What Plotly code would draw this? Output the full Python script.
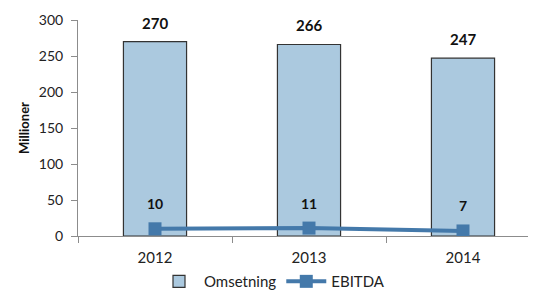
import plotly.graph_objects as go

years = ["2012", "2013", "2014"]
omsetning = [270, 266, 247]
ebitda = [10, 11, 7]

bar_color = "#abc9df"
line_color = "#4479aa"
font_fam = "Lato, Open Sans, sans-serif"

fig = go.Figure()
fig.add_trace(go.Bar(
    x=years, y=omsetning, name="Omsetning",
    marker=dict(color=bar_color, line=dict(color="#333333", width=1.2)),
    width=0.41,
))
fig.add_trace(go.Scatter(
    x=years, y=ebitda, name="EBITDA", mode="lines+markers",
    line=dict(color=line_color, width=4),
    marker=dict(symbol="square", size=13, color=line_color),
))

for i, v in enumerate(omsetning):
    fig.add_annotation(x=i, y=v, xref="x", yref="y", text=f"<b>{v}</b>", showarrow=False,
                       yshift=19, font=dict(size=15, color="#111111", family=font_fam))
for i, v in enumerate(ebitda):
    fig.add_annotation(x=i, y=v, xref="x", yref="y", text=f"<b>{v}</b>", showarrow=False,
                       yshift=25, font=dict(size=14, color="#111111", family=font_fam))

fig.update_layout(
    width=528, height=285,
    margin=dict(l=70, r=0, t=12, b=57, autoexpand=False),
    paper_bgcolor="white", plot_bgcolor="white",
    font=dict(family=font_fam, color="#222222"),
    showlegend=True,
    legend=dict(orientation="h", xref="container", yref="container",
                x=0.5, xanchor="center", y=0.04, yanchor="middle",
                font=dict(size=15, family=font_fam, color="#222222"),
                itemwidth=40, traceorder="normal"),
)
fig.update_xaxes(
    type="category",
    range=[-0.5, 2.474], showline=True, linecolor="#8c8c8c", linewidth=1,
    ticks="outside", tickson="boundaries", ticklen=6, tickcolor="#8c8c8c",
    tickfont=dict(size=15, color="#222222", family=font_fam), showgrid=False,
    ticklabelstandoff=8,
    automargin=False,
)
fig.update_yaxes(
    range=[0, 300], dtick=50, showline=True, linecolor="#8c8c8c", linewidth=1,
    ticks="outside", ticklen=6, tickcolor="#8c8c8c", showgrid=False, zeroline=False,
    tickfont=dict(size=14, color="#222222", family=font_fam),
    ticklabelstandoff=5,
    title=dict(text="<b>Millioner</b>", font=dict(size=13, family=font_fam, color="#111111"), standoff=6),
    automargin=False,
)

fig.write_html("out.html")
